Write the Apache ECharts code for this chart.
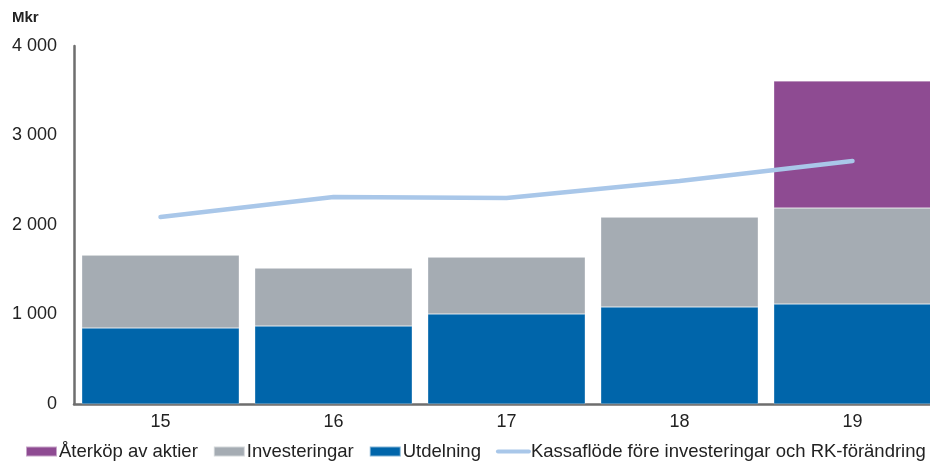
<!DOCTYPE html>
<html>
<head>
<meta charset="utf-8">
<script src="https://cdn.jsdelivr.net/npm/echarts@6/dist/echarts.min.js"></script>
<style>
html,body{margin:0;padding:0;background:#fff;}
#main{width:930px;height:464px;}
</style>
</head>
<body>
<div id="main"></div>
<script>
// kategorier (år)
var years = ['15', '16', '17', '18', '19'];
// Mkr
var utdelning = [849, 871, 1006, 1084, 1117];
var investeringar = [815, 649, 636, 1005, 1073];
var aterkop = [0, 0, 0, 0, 1419];
var kassaflode = [2089, 2313, 2302, 2492, 2715];
var yTicks = [0, 1000, 2000, 3000, 4000];

var fontFam = '"Liberation Sans", Arial, sans-serif';

function fmt(v) {
	return String(v).replace(/\B(?=(\d{3})+(?!\d))/g, ' ');
}

var chart = echarts.init(document.getElementById('main'));
var option = {
	animation: false,
	textStyle: {fontFamily: fontFam},
	graphic: [{
		type: 'text',
		left: 12,
		top: 10,
		style: {text: 'Mkr', font: 'bold 15px ' + fontFam, fill: '#222'}
	}],
	legend: {
		left: 20,
		top: 437,
		width: 1000,
		itemWidth: 31,
		itemHeight: 10,
		itemGap: 15,
		textStyle: {fontSize: 18.5, color: '#222', padding: [0, 0, 0, -3]},
		data: [
			{name: 'Återköp av aktier', icon: 'rect'},
			{name: 'Investeringar', icon: 'rect'},
			{name: 'Utdelning', icon: 'rect'},
			{
				name: 'Kassaflöde före investeringar och RK-förändring',
				itemStyle: {opacity: 0},
				lineStyle: {width: 4, color: '#a9c7e9'}
			}
		]
	},
	grid: {left: 74, width: 865, top: 46, bottom: 60, containLabel: false, outerBoundsMode: 'none'},
	xAxis: {
		type: 'category',
		data: years,
		axisLine: {lineStyle: {color: '#6e6e6e', width: 2.5}},
		axisTick: {show: false},
		axisLabel: {fontSize: 18, color: '#222', margin: 9}
	},
	yAxis: {
		type: 'value',
		min: yTicks[0],
		max: yTicks[yTicks.length - 1],
		interval: 1000,
		axisLine: {show: true, lineStyle: {color: '#6e6e6e', width: 2.5}},
		axisTick: {show: false},
		splitLine: {show: false},
		axisLabel: {fontSize: 18, color: '#222', margin: 17, formatter: fmt}
	},
	series: [
		{
			name: 'Utdelning', type: 'bar', stack: 'a',
			barCategoryGap: '9%',
			itemStyle: {color: '#0065aa', borderColor: 'rgba(255,255,255,0.5)', borderWidth: 0.5},
			data: utdelning
		},
		{
			name: 'Investeringar', type: 'bar', stack: 'a',
			itemStyle: {color: '#a5acb3', borderColor: 'rgba(255,255,255,0.5)', borderWidth: 0.5},
			data: investeringar
		},
		{
			name: 'Återköp av aktier', type: 'bar', stack: 'a',
			itemStyle: {color: '#8e4b92', borderColor: 'rgba(255,255,255,0.5)', borderWidth: 0.5},
			data: aterkop
		},
		{
			name: 'Kassaflöde före investeringar och RK-förändring', type: 'line',
			symbol: 'none',
			lineStyle: {color: '#a9c7e9', width: 4.5, cap: 'round'},
			itemStyle: {color: '#a9c7e9'},
			data: kassaflode
		}
	]
};
chart.setOption(option);
</script>
</body>
</html>
